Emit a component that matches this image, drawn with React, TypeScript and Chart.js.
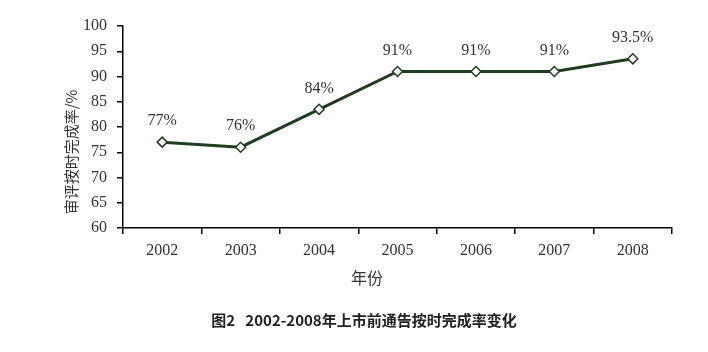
import React, { useEffect, useRef } from "react";
import { Chart, registerables } from "chart.js";

Chart.register(...registerables);

const categories = ["2002", "2003", "2004", "2005", "2006", "2007", "2008"];
const rates = [77, 76, 83.5, 91, 91, 91, 93.5];
const rateLabels = ["77%", "76%", "84%", "91%", "91%", "91%", "93.5%"];
const yTitle = "审评按时完成率/%";
const xTitle = "年份";
const caption = "图2   2002-2008年上市前通告按时完成率变化";

const LINE = "#1f3d1f";
const TEXT = "#333333";
const SERIF = "'Liberation Serif', 'Times New Roman', serif";

const textPlugin = {
  id: "textPlugin",
  afterDraw(chart: any) {
    const ctx = chart.ctx;
    const meta = chart.getDatasetMeta(0);
    ctx.save();
    ctx.fillStyle = TEXT;
    ctx.textAlign = "center";
    ctx.textBaseline = "middle";
    ctx.font = `16px ${SERIF}`;
    meta.data.forEach((pt: any, i: number) => {
      ctx.fillText(rateLabels[i], pt.x, pt.y - 21);
    });
    // y title
    ctx.save();
    ctx.translate(71, 152);
    ctx.rotate(-Math.PI / 2);
    ctx.font = `15px 'Noto Sans CJK SC', ${SERIF}`;
    ctx.fillText(yTitle, 0, 0);
    ctx.restore();
    // x title
    ctx.font = `16px 'Noto Sans CJK SC', ${SERIF}`;
    ctx.fillText(xTitle, 367, 278);
    // caption
    ctx.fillStyle = "#222222";
    ctx.font = `bold 15px 'Noto Sans CJK SC', sans-serif`;
    ctx.fillText(caption, 364, 320);
    ctx.restore();
  },
};

export default function App() {
  const ref = useRef<HTMLCanvasElement | null>(null);
  useEffect(() => {
    if (!ref.current) return;
    const chart = new Chart(ref.current, {
      type: "line",
      data: {
        labels: categories,
        datasets: [
          {
            data: rates,
            borderColor: LINE,
            borderWidth: 3,
            pointStyle: "rectRot",
            pointRadius: 5,
            pointBackgroundColor: "#ffffff",
            pointBorderColor: LINE,
            pointBorderWidth: 1.5,
            tension: 0,
          },
        ],
      },
      options: {
        responsive: false,
        animation: false,
        layout: { padding: { top: 26, right: 36, bottom: 0, left: 0 } },
        plugins: { legend: { display: false }, tooltip: { enabled: false }, title: { display: false } },
        scales: {
          x: {
            type: "category",
            offset: true,
            grid: { display: true, offset: true, drawOnChartArea: false, drawTicks: true, tickLength: 6, color: "#000", lineWidth: 1.5 },
            border: { display: true, color: "#000", width: 1.5 },
            ticks: { color: TEXT, font: { family: SERIF, size: 16 }, padding: 7, maxRotation: 0 },
            afterFit: (s: any) => {
              s.height = 124;
            },
          },
          y: {
            min: 60,
            max: 100,
            ticks: { stepSize: 5, color: TEXT, font: { family: SERIF, size: 16 }, padding: 10 },
            grid: { display: true, drawOnChartArea: false, drawTicks: true, tickLength: 6, color: "#000", lineWidth: 1.5 },
            border: { display: true, color: "#000", width: 1.5 },
            afterFit: (s: any) => {
              s.width = 123;
            },
          },
        },
      },
      plugins: [textPlugin],
    } as any);
    return () => chart.destroy();
  }, []);
  return (
    <div style={{ position: "absolute", left: 0, top: 0, width: 708, height: 352, background: "#fff" }}>
      <canvas ref={ref} width={708} height={352} style={{ display: "block" }} />
    </div>
  );
}
